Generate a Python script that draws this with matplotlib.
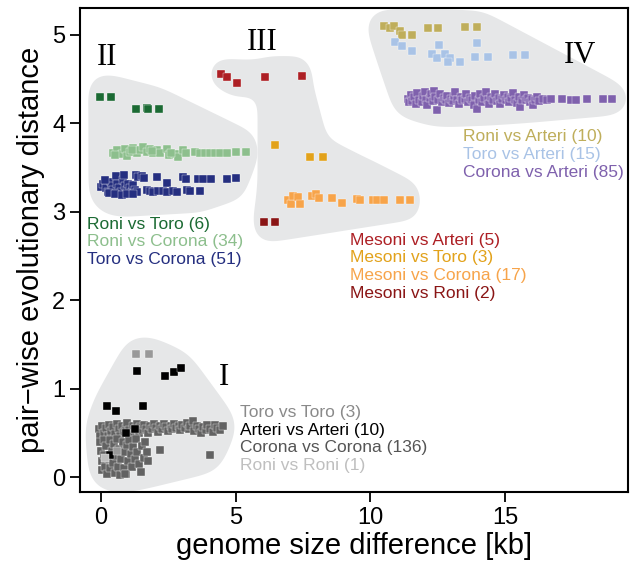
import numpy as np
import matplotlib.pyplot as plt
from matplotlib.path import Path

plt.rcParams['font.family'] = ['Liberation Sans', 'DejaVu Sans']

# ---- data: genome size difference [kb] vs pair-wise evolutionary distance ----
# group II
roni_toro_x = [-0.04, 0.37, 1.30, 1.70, 1.75, 2.15]
roni_toro_y = [4.30, 4.30, 4.16, 4.17, 4.16, 4.16]

roni_corona_x = [0.46, 0.61, 0.77, 0.89, 0.98, 1.08, 1.20, 1.32, 1.45, 1.57, 1.70, 1.82,
                 1.94, 2.09, 2.19, 2.46, 2.54, 2.75, 2.87, 3.06, 3.16, 3.49, 3.68, 3.86,
                 4.05, 4.23, 4.42, 4.67, 5.01, 5.39, 0.52, 1.14, 1.88, 2.60]
roni_corona_y = [3.67, 3.70, 3.65, 3.71, 3.63, 3.68, 3.72, 3.66, 3.70, 3.73, 3.68, 3.71,
                 3.67, 3.70, 3.66, 3.71, 3.64, 3.65, 3.62, 3.70, 3.67, 3.68, 3.67, 3.67,
                 3.66, 3.66, 3.66, 3.66, 3.68, 3.68, 3.64, 3.70, 3.69, 3.67]

toro_corona_x = [-0.01, 0.09, 0.19, 0.27, 0.36, 0.40, 0.46, 0.56, 0.61, 0.68, 0.73, 0.80,
                 0.85, 0.89, 0.95, 1.02, 1.08, 1.14, 1.20, 1.26, 1.32, 1.30, 1.39, 1.51,
                 1.60, 1.70, 1.82, 1.92, 2.07, 2.13, 2.29, 2.46, 2.46, 2.66, 2.81, 3.06,
                 3.16, 3.21, 3.30, 3.61, 3.68, 3.80, 4.07, 4.67, 5.01, 0.15, 0.31, 0.52,
                 0.77, 0.98, 1.20]
toro_corona_y = [3.28, 3.31, 3.27, 3.23, 3.34, 3.29, 3.25, 3.40, 3.31, 3.27, 3.22, 3.36,
                 3.42, 3.29, 3.25, 3.32, 3.27, 3.23, 3.30, 3.25, 3.22, 3.42, 3.39, 3.40,
                 3.38, 3.25, 3.24, 3.23, 3.39, 3.24, 3.24, 3.33, 3.23, 3.24, 3.23, 3.39,
                 3.37, 3.25, 3.24, 3.37, 3.24, 3.37, 3.37, 3.37, 3.38, 3.36, 3.21, 3.20,
                 3.19, 3.20, 3.20]

# group III
mesoni_arteri_x = [4.44, 4.67, 5.06, 6.07, 7.46]
mesoni_arteri_y = [4.56, 4.52, 4.46, 4.53, 4.54]

mesoni_toro_x = [6.45, 7.77, 8.26]
mesoni_toro_y = [3.76, 3.62, 3.62]

mesoni_corona_x = [6.96, 7.05, 7.12, 7.33, 7.37, 7.82, 7.98, 8.11, 8.57, 8.94, 9.52,
                   9.62, 10.09, 10.24, 10.52, 11.10, 11.47]
mesoni_corona_y = [3.13, 3.09, 3.18, 3.17, 3.09, 3.18, 3.20, 3.16, 3.16, 3.10, 3.15,
                   3.13, 3.13, 3.13, 3.13, 3.13, 3.13]

mesoni_roni_x = [6.05, 6.45]
mesoni_roni_y = [2.89, 2.89]

# group IV
roni_arteri_x = [10.51, 10.73, 10.89, 11.10, 11.17, 11.54, 12.15, 12.53, 13.53, 13.95]
roni_arteri_y = [5.10, 5.08, 5.10, 5.05, 5.00, 5.00, 5.08, 5.08, 5.09, 5.09]

toro_arteri_x = [10.92, 11.17, 11.54, 12.55, 12.28, 12.49, 12.77, 12.96, 12.90, 13.33,
                 13.89, 13.95, 14.36, 15.29, 15.74]
toro_arteri_y = [4.92, 4.87, 4.82, 4.89, 4.79, 4.74, 4.79, 4.74, 4.69, 4.69,
                 4.75, 4.91, 4.75, 4.77, 4.77]

corona_arteri_x = [11.41, 11.45, 11.50, 11.55, 11.62, 11.70, 11.75, 11.82, 11.90, 11.95,
                   12.02, 12.08, 12.12, 12.20, 12.25, 12.32, 12.35, 12.40, 12.46, 12.50,
                   12.58, 12.65, 12.72, 12.80, 12.86, 12.92, 13.00, 13.06, 13.12, 13.15,
                   13.20, 13.28, 13.35, 13.42, 13.50, 13.56, 13.62, 13.70, 13.76, 13.84,
                   13.90, 13.97, 14.02, 14.08, 14.15, 14.22, 14.28, 14.35, 14.42, 14.48,
                   14.55, 14.62, 14.70, 14.76, 14.82, 14.90, 14.96, 15.02, 15.10, 15.16,
                   15.24, 15.30, 15.38, 15.45, 15.52, 15.56, 15.62, 15.70, 15.78, 15.85,
                   15.92, 16.00, 16.05, 16.12, 16.20, 16.28, 16.40, 16.55, 16.70, 17.10,
                   17.45, 17.62, 18.03, 18.65, 18.96]
corona_arteri_y = [4.28, 4.24, 4.32, 4.25, 4.30, 4.22, 4.34, 4.27, 4.24, 4.31,
                   4.36, 4.26, 4.21, 4.29, 4.33, 4.25, 4.37, 4.30, 4.15, 4.27,
                   4.33, 4.24, 4.29, 4.26, 4.31, 4.23, 4.28, 4.25, 4.31, 4.35,
                   4.27, 4.22, 4.30, 4.26, 4.28, 4.33, 4.24, 4.29, 4.27, 4.21,
                   4.31, 4.16, 4.26, 4.33, 4.24, 4.29, 4.35, 4.26, 4.22, 4.30,
                   4.27, 4.33, 4.25, 4.29, 4.22, 4.28, 4.32, 4.26, 4.30, 4.24,
                   4.29, 4.34, 4.27, 4.23, 4.30, 4.19, 4.27, 4.32, 4.26, 4.29,
                   4.24, 4.28, 4.21, 4.27, 4.30, 4.25, 4.28, 4.27, 4.28, 4.28,
                   4.27, 4.27, 4.28, 4.28, 4.28]

# group I
corona_corona_x = [-0.08, -0.05, 0.05, 0.10, 0.18, 0.25, 0.30, 0.38, 0.45, 0.52, 0.58, 0.65,
                   0.72, 0.78, 0.85, 0.92, 0.98, 1.05, 1.12, 1.18, 1.25, 1.32, 1.40, 1.46,
                   1.52, 1.60, 1.68, 1.75, 1.82, 1.90, 1.98, 2.05, 2.12, 2.20, 2.28, 2.35,
                   2.42, 2.50, 2.58, 2.65, 2.72, 2.80, 2.88, 2.95, 3.02, 3.10, 3.18, 3.25,
                   3.32, 3.40, 3.46, 3.55, 3.62, 3.70, 3.80, 3.88, 3.95, 4.05, 4.17, 4.23,
                   4.32, 4.42, 4.52,
                   -0.05, 0.00, 0.02, 0.05, 0.10, 0.12, 0.15, 0.20, 0.22, 0.28, 0.32, 0.35,
                   0.40, 0.45, 0.48, 0.52, 0.55, 0.60, 0.62, 0.68, 0.72, 0.75, 0.80, 0.85,
                   0.88, 0.92, 0.95, 1.00, 1.05, 1.10, 1.15, 1.20, 1.25, 1.30, 1.35, 1.40,
                   1.48, 1.52, 1.58, 1.65, 1.70, 1.76, 2.19, 4.05, 0.89]
corona_corona_y = [0.55, 0.47, 0.58, 0.50, 0.56, 0.47, 0.59, 0.52, 0.57, 0.49, 0.60, 0.54,
                   0.47, 0.58, 0.51, 0.56, 0.61, 0.53, 0.48, 0.58, 0.55, 0.60, 0.50, 0.57,
                   0.53, 0.59, 0.55, 0.50, 0.58, 0.54, 0.60, 0.56, 0.51, 0.58, 0.55, 0.60,
                   0.57, 0.52, 0.58, 0.55, 0.60, 0.56, 0.58, 0.53, 0.59, 0.56, 0.61, 0.55,
                   0.58, 0.63, 0.52, 0.58, 0.55, 0.50, 0.57, 0.53, 0.59, 0.55, 0.51, 0.59,
                   0.56, 0.53, 0.58,
                   0.40, 0.30, 0.18, 0.08, 0.42, 0.25, 0.12, 0.35, 0.04, 0.20, 0.42, 0.10,
                   0.30, 0.16, 0.38, 0.05, 0.24, 0.43, 0.12, 0.32, 0.02, 0.20, 0.40, 0.10,
                   0.28, 0.04, 0.36, 0.18, 0.42, 0.26, 0.12, 0.34, 0.20, 0.43, 0.28, 0.15,
                   0.06, 0.35, 0.22, 0.40, 0.28, 0.18, 0.31, 0.25, 0.04]

arteri_arteri_x = [1.35, 2.38, 2.72, 2.96, 0.21, 0.56, 1.57, 0.33, 1.26, 0.93]
arteri_arteri_y = [1.20, 1.14, 1.19, 1.23, 0.80, 0.75, 0.81, 0.25, 0.55, 0.50]

toro_toro_x = [1.30, 1.78, 0.60]
toro_toro_y = [1.39, 1.39, 0.30]

roni_roni_x = [0.15]
roni_roni_y = [0.22]

# legend text per group
labels_II = ['Roni vs Toro (6)', 'Roni vs Corona (34)', 'Toro vs Corona (51)']
labels_III = ['Mesoni vs Arteri (5)', 'Mesoni vs Toro (3)', 'Mesoni vs Corona (17)',
              'Mesoni vs Roni (2)']
labels_IV = ['Roni vs Arteri (10)', 'Toro vs Arteri (15)', 'Corona vs Arteri (85)']
labels_I = ['Toro vs Toro (3)', 'Arteri vs Arteri (10)', 'Corona vs Corona (136)',
            'Roni vs Roni (1)']

c_roni_toro = '#1b6a33'
c_roni_corona = '#8dbf8d'
c_toro_corona = '#252f80'
c_mes_arteri = '#ad1f24'
c_mes_toro = '#e2a21b'
c_mes_corona = '#f7a44a'
c_mes_roni = '#8a1515'
c_roni_arteri = '#bfae5b'
c_toro_arteri = '#a9c3e6'
c_corona_arteri = '#7f61ad'
c_toro_toro = '#999999'
c_arteri_arteri = '#000000'
c_corona_corona = '#626262'
c_roni_roni = '#bdbdbd'
blob_color = '#e6e7e8'


def convex_hull(pts):
    pts = sorted(map(tuple, pts))

    def cross(o, a, b):
        return (a[0] - o[0]) * (b[1] - o[1]) - (a[1] - o[1]) * (b[0] - o[0])

    lower = []
    for p in pts:
        while len(lower) >= 2 and cross(lower[-2], lower[-1], p) <= 0:
            lower.pop()
        lower.append(p)
    upper = []
    for p in reversed(pts):
        while len(upper) >= 2 and cross(upper[-2], upper[-1], p) <= 0:
            upper.pop()
        upper.append(p)
    return np.array(lower[:-1] + upper[:-1])


def rounded_hull(xs, ys, padx, pady):
    # hull around the points grown by an ellipse (pad in pixels), back in data coords
    pix = ax.transData.transform(np.column_stack([xs, ys]))
    t = np.linspace(0, 2 * np.pi, 48, endpoint=False)
    ring = np.column_stack([padx * np.cos(t), pady * np.sin(t)])
    cloud = (pix[:, None, :] + ring[None, :, :]).reshape(-1, 2)
    return Path(ax.transData.inverted().transform(convex_hull(cloud)))


def gauss_blur(a, sigma):
    k = np.arange(-int(3 * sigma), int(3 * sigma) + 1)
    g = np.exp(-0.5 * (k / sigma) ** 2)
    g /= g.sum()
    a = np.apply_along_axis(lambda r: np.convolve(r, g, mode='same'), 1, a)
    a = np.apply_along_axis(lambda c: np.convolve(c, g, mode='same'), 0, a)
    return a


def blob(hulls, sigma=9):
    # union of hulls, softened so that corners come out round
    mask = np.zeros(GX.shape, dtype=float)
    for h in hulls:
        mask[h.contains_points(grid_pts).reshape(GX.shape)] = 1.0
    soft = gauss_blur(mask, sigma)
    ax.contourf(GX, GY, soft, levels=[0.5, 2.0], colors=[blob_color], zorder=0,
                antialiased=True)


fig = plt.figure(figsize=(6.3, 5.71), dpi=100)
ax = fig.add_axes([0.127, 0.138, 0.870, 0.848])
ax.set_xlim(-0.78, 19.57)
ax.set_ylim(-0.17, 5.305)

gx = np.linspace(-0.78, 19.57, 620)
gy = np.linspace(-0.17, 5.305, 540)
GX, GY = np.meshgrid(gx, gy)
grid_pts = np.column_stack([GX.ravel(), GY.ravel()])

# background blobs
blob([rounded_hull(roni_toro_x + roni_corona_x + toro_corona_x,
                   roni_toro_y + roni_corona_y + toro_corona_y, 12, 22)])
blob([rounded_hull(mesoni_arteri_x, mesoni_arteri_y, 11, 15),
      rounded_hull(mesoni_arteri_x[3:] + mesoni_toro_x + mesoni_roni_x,
                   mesoni_arteri_y[3:] + mesoni_toro_y + mesoni_roni_y, 7, 20),
      rounded_hull(mesoni_toro_x + mesoni_corona_x + mesoni_roni_x,
                   mesoni_toro_y + mesoni_corona_y + mesoni_roni_y, 11, 20)])
blob([rounded_hull(roni_arteri_x + toro_arteri_x + corona_arteri_x,
                   roni_arteri_y + toro_arteri_y + corona_arteri_y, 18, 17)], sigma=11)
blob([rounded_hull(corona_corona_x + arteri_arteri_x + toro_toro_x + roni_roni_x,
                   corona_corona_y + arteri_arteri_y + toro_toro_y + roni_roni_y, 14, 18)],
     sigma=12)

series = [
    (roni_toro_x, roni_toro_y, c_roni_toro),
    (roni_corona_x, roni_corona_y, c_roni_corona),
    (toro_corona_x, toro_corona_y, c_toro_corona),
    (mesoni_arteri_x, mesoni_arteri_y, c_mes_arteri),
    (mesoni_toro_x, mesoni_toro_y, c_mes_toro),
    (mesoni_corona_x, mesoni_corona_y, c_mes_corona),
    (mesoni_roni_x, mesoni_roni_y, c_mes_roni),
    (roni_arteri_x, roni_arteri_y, c_roni_arteri),
    (toro_arteri_x, toro_arteri_y, c_toro_arteri),
    (corona_arteri_x, corona_arteri_y, c_corona_arteri),
    (corona_corona_x, corona_corona_y, c_corona_corona),
    (arteri_arteri_x, arteri_arteri_y, c_arteri_arteri),
    (toro_toro_x, toro_toro_y, c_toro_toro),
    (roni_roni_x, roni_roni_y, c_roni_roni),
]
for xs, ys, c in series:
    ax.scatter(xs, ys, marker='s', s=26, c=c, edgecolors='white', linewidths=0.25, zorder=2)


# coloured legend blocks
def text_block(x, y0, labels, colors):
    for i, (lab, c) in enumerate(zip(labels, colors)):
        ax.text(x, y0 - i * 0.2, lab, color=c, fontsize=12.5, ha='left', va='center')


text_block(-0.51, 2.86, labels_II, [c_roni_toro, c_roni_corona, c_toro_corona])
text_block(9.25, 2.68, labels_III, [c_mes_arteri, c_mes_toro, c_mes_corona, c_mes_roni])
text_block(13.43, 3.85, labels_IV, [c_roni_arteri, c_toro_arteri, c_corona_arteri])
text_block(5.16, 0.73, labels_I, ['#8a8a8a', '#000000', '#555555', '#bfbfbf'])

# roman numerals
serif = ['Liberation Serif', 'DejaVu Serif']
for lab, x, y in [('I', 4.57, 1.13), ('II', 0.22, 4.75), ('III', 5.98, 4.92), ('IV', 17.79, 4.77)]:
    ax.text(x, y, lab, family=serif, fontsize=22, ha='center', va='center')

ax.set_xticks([0, 5, 10, 15])
ax.set_yticks([0, 1, 2, 3, 4, 5])
ax.tick_params(labelsize=17, length=7, width=1.3, direction='out')
for sp in ax.spines.values():
    sp.set_linewidth(1.5)
ax.set_xlabel('genome size difference [kb]', fontsize=21, labelpad=2)
ax.set_ylabel('pair\u2212wise evolutionary distance', fontsize=21, labelpad=5)

fig.savefig('out.png', dpi=100)
